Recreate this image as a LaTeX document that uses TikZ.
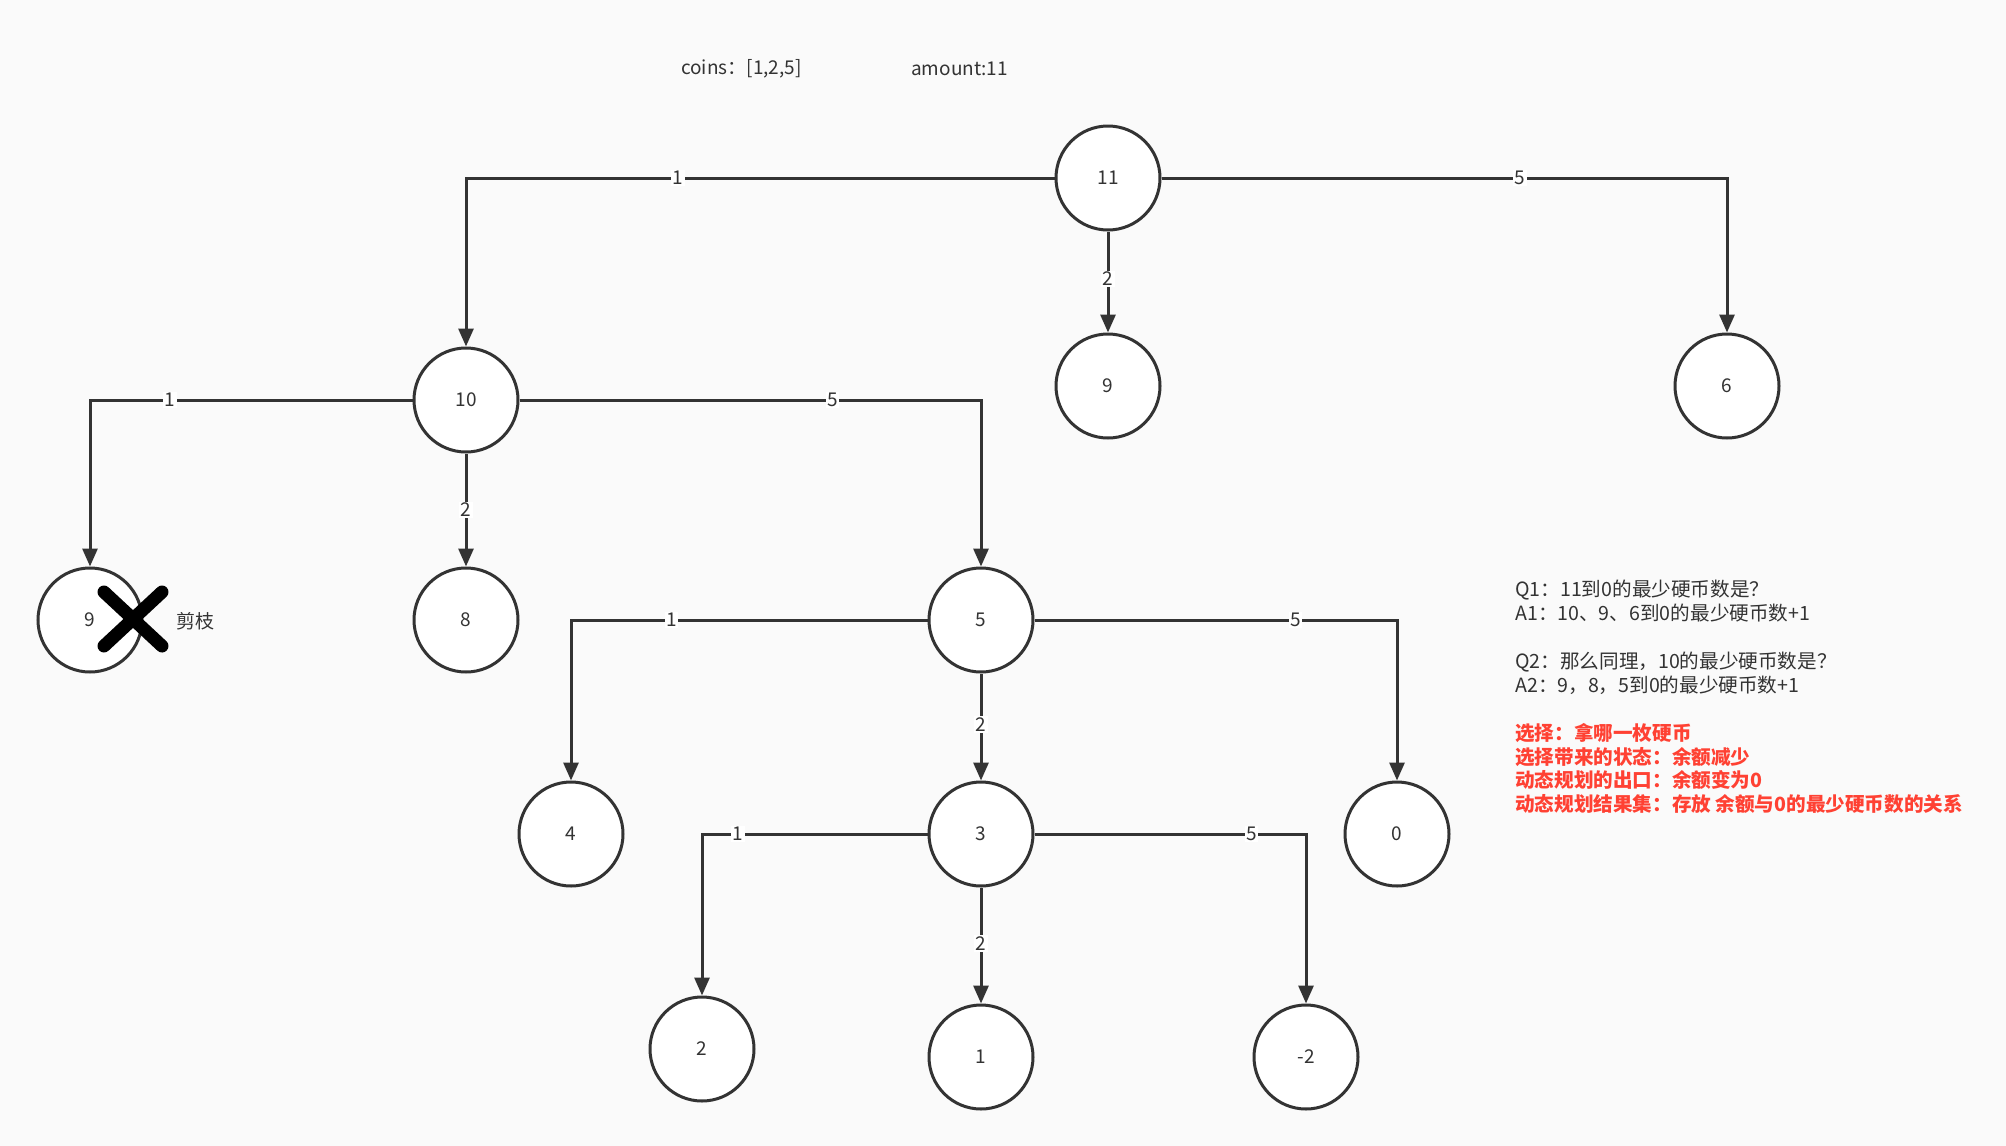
\documentclass[tikz,border=0pt]{standalone}
\usepackage{fontspec}
\newfontfamily\cjk{Noto Sans CJK SC}
\usetikzlibrary{arrows.meta}
\definecolor{bg}{HTML}{FAFAFA}
\definecolor{ink}{HTML}{333333}
\definecolor{redt}{HTML}{FF4133}
\begin{document}
\begin{tikzpicture}[x=1pt,y=-1pt,
  state/.style={circle,draw=ink,line width=3pt,fill=white,minimum size=104pt,inner sep=0pt,
    font=\cjk\fontsize{19}{19}\selectfont,text=ink},
  link/.style={draw=ink,line width=3pt,-{Triangle[length=18pt,width=15pt]}},
  lab/.style={fill=white,inner sep=1.5pt,font=\cjk\fontsize{19}{19}\selectfont,text=ink},
  txt/.style={anchor=west,inner sep=0pt,font=\cjk\fontsize{19}{19}\selectfont,text=ink},
  note/.style={anchor=west,inner sep=0pt,text height=16pt,text depth=3pt,
    font=\cjk\fontsize{19.6}{24}\selectfont,text=ink},
  rnote/.style={note,text=redt,font=\cjk\bfseries\fontsize{19.6}{24}\selectfont}
]
\fill[bg] (0,0) rectangle (2006,1146);
\useasboundingbox (0,0) rectangle (2006,1146);

\node[txt] (coins) at (681,69) {coins：[1,2,5]};
\node[txt] (amount) at (911,69) {amount:11};

\node[state] (n11) at (1108,178) {11};
\node[state] (n10) at (466,400) {10};
\node[state] (n9a) at (1108,386) {9};
\node[state] (n6) at (1727,386) {6};
\node[state] (n9b) at (90,620) {9};
\node[state] (n8) at (466,620) {8};
\node[state] (n5) at (981,620) {5};
\node[state] (n4) at (571,834) {4};
\node[state] (n3) at (981,834) {3};
\node[state] (n0) at (1397,834) {0};
\node[state] (n2) at (702,1049) {2};
\node[state] (n1) at (981,1057) {1};
\node[state] (nm2) at (1306,1057) {-2};

\draw[link] (n11.west) -| node[lab,pos=0.32]{1} (n10.north);
\draw[link] (n11.south) -- node[lab,pos=0.47]{2} (n9a.north);
\draw[link] (n11.east) -| node[lab,pos=0.317]{5} (n6.north);

\draw[link] (n10.west) -| node[lab,pos=0.376]{1} (n9b.north);
\draw[link] (n10.south) -- node[lab,pos=0.5]{2} (n8.north);
\draw[link] (n10.east) -| node[lab,pos=0.339]{5} (n5.north);

\draw[link] (n5.west) -| node[lab,pos=0.359]{1} (n4.north);
\draw[link] (n5.south) -- node[lab,pos=0.48]{2} (n3.north);
\draw[link] (n5.east) -| node[lab,pos=0.36]{5} (n0.north);

\draw[link] (n3.west) -| node[lab,pos=0.42]{1} (n2.north);
\draw[link] (n3.south) -- node[lab,pos=0.48]{2} (n1.north);
\draw[link] (n3.east) -| node[lab,pos=0.40]{5} (nm2.north);

% prune mark
\coordinate (xc) at (133,619);
\draw[black,line width=13pt,line cap=round] ([shift={(-29,-27)}]xc) -- ([shift={(29,27)}]xc);
\draw[black,line width=13pt,line cap=round] ([shift={(-29,27)}]xc) -- ([shift={(29,-27)}]xc);
\node[txt] (prune) at (176,621) {剪枝};

% notes
\node[note] (q1) at (1515,590) {Q1：11到0的最少硬币数是？};
\node[note] (a1) at (1515,614) {A1：10、9、6到0的最少硬币数+1};
\node[note] (q2) at (1515,662) {Q2：那么同理，10的最少硬币数是？};
\node[note] (a2) at (1515,686) {A2：9，8，5到0的最少硬币数+1};
\node[rnote] (r1) at (1515,734) {选择：拿哪一枚硬币};
\node[rnote] (r2) at (1515,758) {选择带来的状态：余额减少};
\node[rnote] (r3) at (1515,781) {动态规划的出口：余额变为0};
\node[rnote] (r4) at (1515,805) {动态规划结果集：存放 余额与0的最少硬币数的关系};
\end{tikzpicture}
\end{document}
